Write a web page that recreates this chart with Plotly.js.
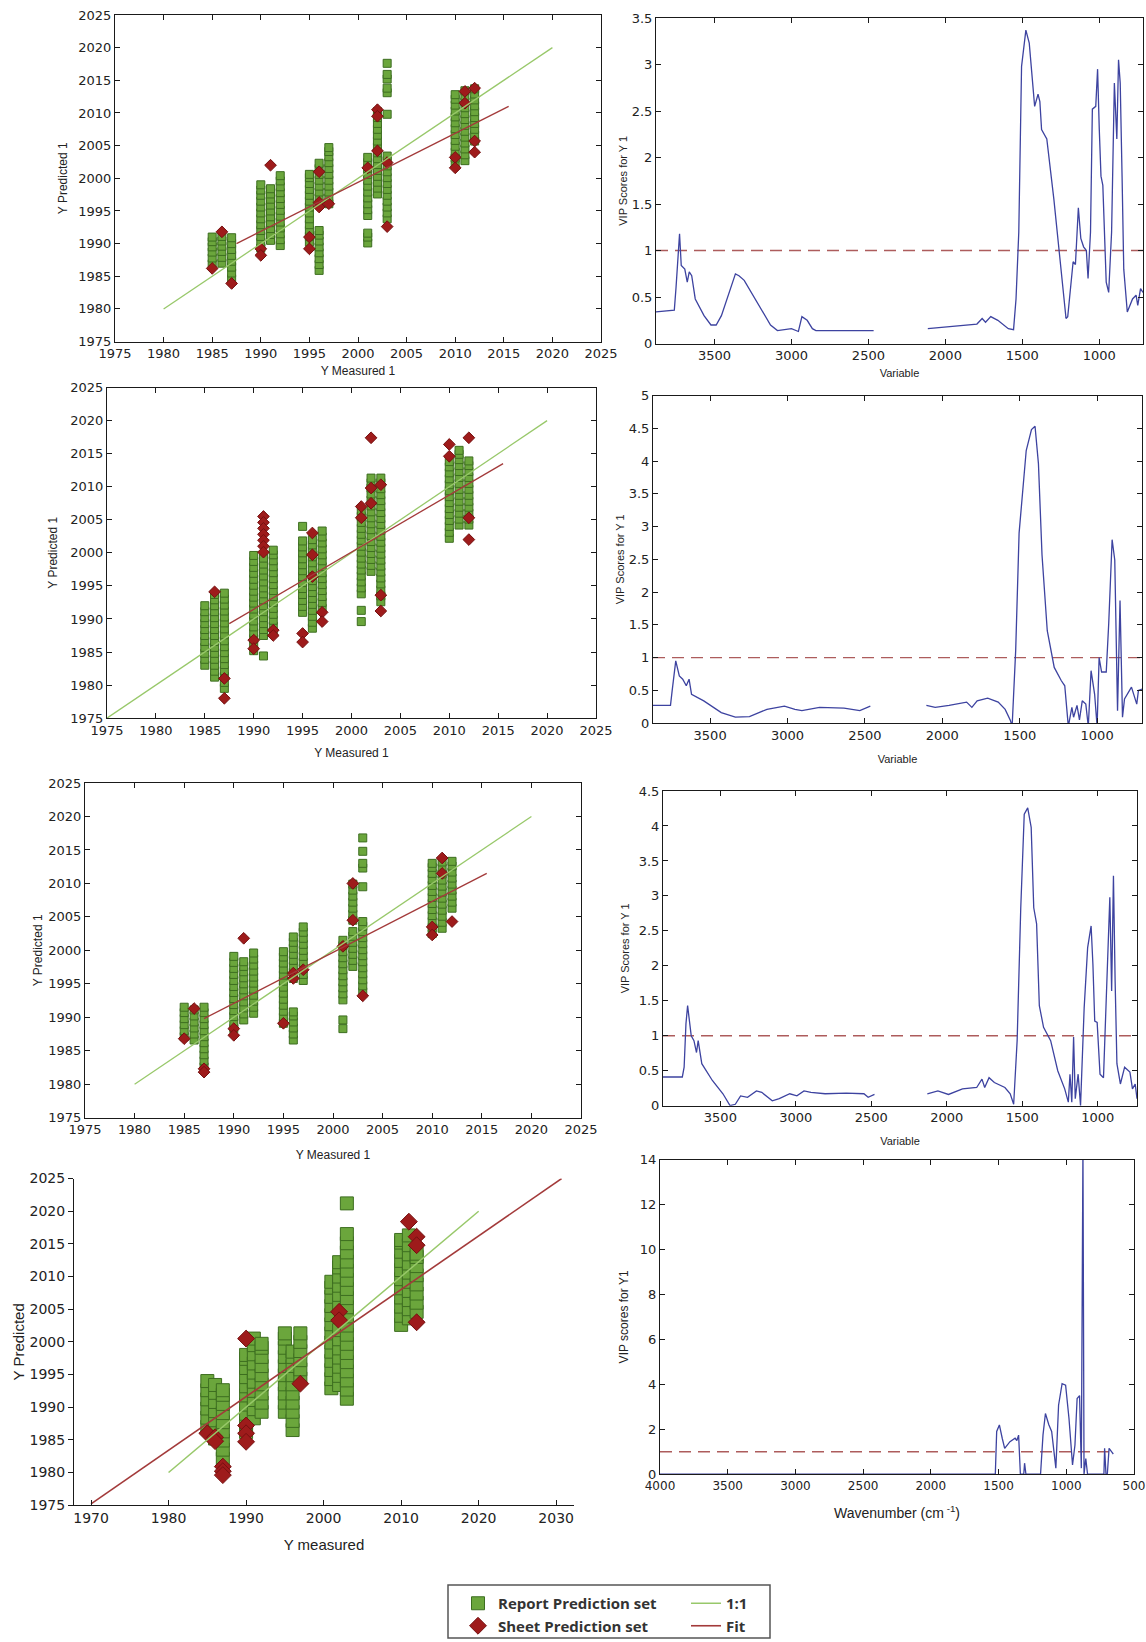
<!DOCTYPE html>
<html><head><meta charset="utf-8">
<script src="https://cdn.plot.ly/plotly-3.0.1.min.js"></script>
<style>html,body{margin:0;padding:0;background:#fff}#chart{width:1146px;height:1642px}</style>
</head><body><div id="chart"></div>
<script>
// ---------------- DATA ----------------
const years = [1985,1986,1987,1990,1991,1992,1995,1996,1997,2001,2002,2003,2010,2011,2012];

// Panel 1 (row 1, left)
const p1Report = [
  [1986.9,1987.8,1988.7,1989.5,1990.3,1991.0],
  [1987.0,1987.9,1988.8,1989.6,1990.4,1991.1],
  [1984.6,1985.5,1986.4,1987.3,1988.2,1989.1,1990.0,1990.9],
  [1989.3,1990.2,1991.1,1992.0,1992.9,1993.8,1994.7,1995.6,1996.5,1997.4,1998.2,1999.0],
  [1990.5,1991.4,1992.3,1993.2,1994.1,1995.0,1995.9,1996.8,1997.6,1998.4],
  [1989.7,1990.6,1991.5,1992.4,1993.3,1994.2,1995.1,1996.0,1996.9,1997.8,1998.7,1999.6,2000.4],
  [1990.2,1991.1,1992.0,1992.9,1993.8,1994.7,1995.6,1996.5,1997.4,1998.3,1999.2,2000.1,2000.6],
  [1985.9,1986.8,1987.7,1988.6,1989.5,1990.4,1991.3,1992.0,1997.0,1997.9,1998.8,1999.7,2000.6,2001.5,2002.3],
  [1996.1,1997.0,1997.9,1998.8,1999.7,2000.6,2001.5,2002.4,2003.3,2004.1,2004.7],
  [1990.1,1991.0,1991.6,1994.3,1995.2,1996.1,1997.0,1997.9,1998.8,1999.7,2000.6,2001.5,2002.4,2003.2],
  [1997.6,1998.5,1999.4,2000.3,2001.2,2002.1,2003.0,2003.9,2004.8,2005.7,2006.6,2007.5,2008.4,2009.3,2010.2],
  [1993.8,1994.7,1995.6,1996.5,1997.4,1998.3,1999.2,2000.1,2001.0,2001.9,2002.7,2003.4,2009.8,2013.1,2013.8,2015.2,2015.9,2017.6],
  [2002.2,2003.1,2004.0,2004.9,2005.8,2006.7,2007.6,2008.5,2009.4,2010.3,2011.2,2012.1,2012.8],
  [2002.7,2003.6,2004.5,2005.4,2006.3,2007.2,2008.1,2009.0,2009.9,2010.8,2011.7,2012.6,2013.4],
  [2005.7,2006.6,2007.5,2008.4,2009.3,2010.2,2011.1,2012.0,2012.9,2013.7]
];
const p1SheetX = [1985,1986,1987,1990,1990,1991,1995,1995,1996,1996,1996,1997,2001,2002,2002,2002,2003,2003,2010,2010,2011,2011,2012,2012,2012];
const p1SheetY = [1986.2,1991.8,1983.9,1989.2,1988.2,2002.0,1991.0,1989.2,2001.0,1996.3,1995.6,1996.1,2001.6,2010.5,2009.5,2004.2,2002.4,1992.6,2003.2,2001.6,2013.3,2011.5,2013.8,2005.7,2004.0];
const p1IdX = [1980,2020], p1IdY = [1980,2020];
const p1FitX = [1987.5,2015.5], p1FitY = [1990.0,2011.0];

// Panel 3 (row 2, left)
const p2Report = [
  [1983.0,1983.9,1984.8,1985.7,1986.6,1987.5,1988.4,1989.3,1990.2,1991.1,1992.0],
  [1981.2,1982.1,1983.0,1983.9,1984.8,1985.7,1986.6,1987.5,1988.4,1989.3,1990.2,1991.1,1992.0,1992.9,1993.7],
  [1979.5,1980.4,1981.3,1982.2,1983.1,1984.0,1984.9,1985.8,1986.7,1987.6,1988.5,1989.4,1990.3,1991.2,1992.1,1993.0,1993.9],
  [1985.2,1986.1,1987.0,1987.9,1988.8,1989.7,1990.6,1991.5,1992.4,1993.3,1994.2,1995.1,1996.0,1996.9,1997.8,1998.7,1999.6],
  [1984.4,1987.5,1988.4,1989.3,1990.2,1991.1,1992.0,1992.9,1993.8,1994.7,1995.6,1996.5,1997.4,1998.3,1999.2],
  [1988.0,1988.9,1989.8,1990.7,1991.6,1992.5,1993.4,1994.3,1995.2,1996.1,1997.0,1997.9,1998.8,1999.7,2000.4],
  [1991.0,1991.9,1992.8,1993.7,1994.6,1995.5,1996.4,1997.3,1998.2,1999.1,2000.0,2000.9,2001.8,2004.0],
  [1988.6,1989.5,1990.4,1991.3,1992.2,1993.1,1994.0,1994.9,1995.8,1996.7,1997.6,1998.5,1999.4,2000.3,2001.2,2002.0],
  [1991.6,1992.5,1993.4,1994.3,1995.2,1996.1,1997.0,1997.9,1998.8,1999.7,2000.6,2001.5,2002.4,2003.3],
  [1989.6,1991.3,1993.8,1994.7,1995.6,1996.5,1997.4,1998.3,1999.2,2000.1,2001.0,2001.9,2002.8,2003.7,2004.6,2005.5,2006.4],
  [1997.2,1998.1,1999.0,1999.9,2000.8,2001.7,2002.6,2003.5,2004.4,2005.3,2006.2,2007.1,2008.0,2008.9,2009.8,2010.6,2011.3],
  [1992.6,1993.5,1994.4,1995.3,1996.2,1997.1,1998.0,1998.9,1999.8,2000.7,2001.6,2002.5,2003.4,2004.3,2005.2,2006.1,2007.0,2007.9,2008.8,2009.7,2010.6,2011.3],
  [2002.2,2003.1,2004.0,2004.9,2005.8,2006.7,2007.6,2008.5,2009.4,2010.3,2011.2,2012.1,2013.0,2013.8],
  [2004.2,2005.1,2006.0,2006.9,2007.8,2008.7,2009.6,2010.5,2011.4,2012.3,2013.2,2014.1,2014.9,2015.5],
  [2004.2,2005.1,2006.0,2006.9,2007.8,2008.7,2009.6,2010.5,2011.4,2012.3,2013.2,2013.9]
];
const p2SheetX = [1986,1987,1987,1990,1990,1991,1991,1991,1991,1991,1991,1991,1992,1992,1995,1995,1996,1996,1996,1997,1997,2001,2001,2002,2002,2002,2003,2003,2003,2010,2010,2012,2012,2012];
const p2SheetY = [1994.1,1981.0,1978.0,1986.8,1985.5,2005.5,2004.6,2003.7,2002.8,2001.9,2001.0,2000.1,1988.3,1987.5,1987.8,1986.5,2003.0,1999.7,1996.4,1991.0,1989.6,2007.0,2005.3,2017.4,2009.8,2007.5,2010.3,1993.6,1991.2,2016.4,2014.6,2017.4,2005.3,2002.0];
const p2IdX = [1975,2020], p2IdY = [1975,2020];
const p2FitX = [1987.5,2015.5], p2FitY = [1989.3,2013.5];

// Panel 5 (row 3, left)
const p3Report = [
  [1987.1,1988.0,1988.9,1989.8,1990.7,1991.5],
  [1986.6,1987.5,1988.4,1989.3,1990.2,1991.1],
  [1982.6,1983.5,1984.4,1985.3,1986.2,1987.1,1988.0,1988.9,1989.8,1990.7,1991.5],
  [1988.3,1989.2,1990.1,1991.0,1991.9,1992.8,1993.7,1994.6,1995.5,1996.4,1997.3,1998.2,1999.1],
  [1989.6,1990.5,1991.4,1992.3,1993.2,1994.1,1995.0,1995.9,1996.8,1997.6,1998.3],
  [1990.6,1991.5,1992.4,1993.3,1994.2,1995.1,1996.0,1996.9,1997.8,1998.7,1999.6],
  [1989.1,1990.0,1990.9,1991.8,1992.7,1993.6,1994.5,1995.4,1996.3,1997.2,1998.1,1999.0,1999.8],
  [1986.6,1987.5,1988.4,1989.3,1990.2,1990.8,1995.8,1996.7,1997.6,1998.5,1999.4,2000.3,2001.2,2002.0],
  [1995.5,1996.4,1997.3,1998.2,1999.1,2000.0,2000.9,2001.8,2002.7,2003.5],
  [1988.3,1989.6,1992.6,1993.5,1994.4,1995.3,1996.2,1997.1,1998.0,1998.9,1999.8,2000.7,2001.5],
  [1997.6,1998.5,1999.4,2000.3,2001.2,2002.1,2002.8,2004.5,2005.4,2006.3,2007.2,2008.1,2009.0,2009.9],
  [1993.8,1994.7,1995.6,1996.5,1997.4,1998.3,1999.2,2000.1,2001.0,2001.9,2002.8,2003.6,2004.3,2009.5,2012.3,2013.0,2014.8,2016.8],
  [2002.5,2003.4,2004.3,2005.2,2006.1,2007.0,2007.9,2008.8,2009.7,2010.6,2011.5,2012.4,2013.0],
  [2003.3,2004.2,2005.1,2006.0,2006.9,2007.8,2008.7,2009.6,2010.5,2011.4,2012.3,2013.2],
  [2006.3,2007.2,2008.1,2009.0,2009.9,2010.8,2011.7,2012.6,2013.3]
];
const p3SheetX = [1985,1986,1987,1987,1990,1990,1991,1995,1996,1996,1997,2001,2002,2002,2003,2010,2010,2011,2011,2012];
const p3SheetY = [1986.8,1991.3,1982.3,1981.8,1988.3,1987.3,2001.8,1989.1,1996.6,1995.8,1997.1,2000.6,2010.0,2004.5,1993.2,2003.5,2002.3,2013.8,2011.5,2004.3];
const p3IdX = [1980,2020], p3IdY = [1980,2020];
const p3FitX = [1987.0,2015.5], p3FitY = [1989.8,2011.5];

// Panel 7 (row 4, left)
const p4Report = [
  [1987.0,1988.4,1989.8,1991.2,1992.6,1994.0],
  [1985.2,1986.6,1988.0,1989.4,1990.8,1992.2,1993.4],
  [1982.1,1983.5,1984.9,1986.3,1987.7,1989.1,1990.5,1991.9,1992.6],
  [1986.2,1987.6,1989.0,1990.4,1991.8,1993.2,1994.6,1996.0,1997.4,1998.0],
  [1988.3,1989.7,1991.1,1992.5,1993.9,1995.3,1996.7,1998.1,1999.5,2000.5],
  [1989.3,1990.7,1992.1,1993.5,1994.9,1996.3,1997.7,1999.1,1999.7],
  [1989.3,1990.7,1992.1,1993.5,1994.9,1996.3,1997.7,1999.1,2000.5,2001.3],
  [1986.5,1987.9,1989.3,1990.7,1992.1,1993.5,1994.9,1996.3,1997.7,1998.5],
  [1994.4,1995.8,1997.2,1998.6,2000.0,2001.3],
  [1992.9,1994.3,1995.7,1997.1,1998.5,1999.9,2001.3,2002.7,2004.1,2005.5,2006.9,2008.3,2009.2],
  [1993.4,1994.8,1996.2,1997.6,1999.0,2000.4,2001.8,2005.8,2007.2,2008.6,2010.0,2011.4,2012.2],
  [1991.3,1992.7,1994.1,1995.5,1996.9,1998.3,1999.7,2001.1,2002.5,2003.9,2005.3,2006.7,2008.1,2009.5,2010.9,2012.3,2013.7,2015.1,2016.5,2021.2],
  [2002.6,2004.0,2005.4,2006.8,2008.2,2009.6,2011.0,2012.4,2013.8,2015.2,2015.6],
  [2003.6,2005.0,2006.4,2007.8,2009.2,2010.6,2012.0,2013.4,2014.8,2016.3],
  [2004.6,2006.0,2007.4,2008.8,2010.2,2011.6,2013.0,2013.5]
];
const p4SheetX = [1985,1986,1986,1987,1987,1987,1990,1990,1990,1990,1997,2002,2002,2011,2012,2012,2012];
const p4SheetY = [1986.0,1985.4,1984.8,1980.9,1980.2,1979.6,2000.5,1987.2,1986.0,1984.7,1993.6,2004.6,2003.3,2018.4,2016.1,2014.8,2003.0];
const p4IdX = [1980,2020], p4IdY = [1980,2020];
const p4FitX = [1970.0,2030.7], p4FitY = [1975.2,2025.0];

// VIP spectra (wavenumber, VIP score); null = removed region
const vip1Wn = [3880,3761,3750,3727,3716,3693,3677,3664,3648,3625,3568,3523,3489,3455,3364,3341,3307,3250,3182,3136,3091,3000,2955,2932,2898,2864,2841,2659,2545,2466,null,2114,1977,1795,1761,1739,1705,1659,1591,1557,1541,1523,1505,1477,1455,1420,1398,1386,1375,1341,1295,1250,1216,1205,1182,1170,1155,1136,1120,1102,1084,1073,1057,1045,1023,1011,1000,989,977,955,939,920,902,886,875,864,852,841,818,784,761,750,732,716];
const vip1Val = [0.34,0.36,0.6,1.18,0.84,0.8,0.66,0.77,0.73,0.48,0.30,0.2,0.2,0.3,0.75,0.73,0.68,0.52,0.32,0.2,0.14,0.16,0.13,0.29,0.25,0.16,0.14,0.14,0.14,0.14,null,0.16,0.18,0.21,0.27,0.23,0.29,0.25,0.16,0.15,0.48,1.2,2.98,3.37,3.23,2.55,2.68,2.6,2.3,2.2,1.55,0.84,0.27,0.29,0.66,0.88,0.85,1.46,1.13,1.04,1.0,0.7,1.2,2.52,2.55,2.95,2.3,1.8,1.7,0.66,0.55,1.2,2.8,2.2,3.05,2.8,1.8,0.8,0.34,0.48,0.52,0.41,0.59,0.55];

const vip2Wn = [3869,3756,3745,3722,3699,3677,3654,3636,3620,3541,3428,3337,3246,3133,3020,2952,2907,2793,2635,2533,2465,null,2103,2046,1956,1843,1809,1775,1707,1639,1594,1560,1549,1526,1504,1481,1458,1424,1401,1379,1356,1322,1277,1232,1209,1186,1163,1152,1130,1114,1096,1073,1057,1039,1016,1000,987,971,941,925,903,886,868,852,836,823,778,744,733,710];
const vip2Val = [0.27,0.27,0.5,0.95,0.72,0.67,0.57,0.67,0.44,0.34,0.16,0.09,0.1,0.21,0.26,0.21,0.19,0.24,0.23,0.19,0.26,null,0.27,0.24,0.27,0.32,0.24,0.34,0.38,0.32,0.21,0.04,-0.05,1.11,2.9,3.6,4.16,4.48,4.53,3.96,2.57,1.41,0.85,0.65,0.57,-0.05,0.24,0.09,0.27,0.05,0.34,0.29,-0.05,0.8,0.44,-0.05,1.0,0.78,0.78,1.52,2.8,2.49,0.19,1.87,0.09,0.37,0.55,0.29,0.5,0.52];

const vip3Wn = [3880,3752,3740,3728,3717,3705,3693,3675,3658,3647,3623,3553,3483,3436,3401,3366,3320,3261,3226,3156,3110,3040,2993,2946,2900,2806,2666,2549,2521,2479,null,2129,2059,1989,1896,1802,1767,1749,1720,1685,1615,1580,1557,1534,1510,1487,1464,1441,1424,1405,1387,1359,1312,1265,1219,1195,1184,1172,1160,1149,1130,1114,1090,1067,1044,1032,1020,1004,985,962,938,920,908,896,885,873,850,822,787,770,752,740];
const vip3Val = [0.41,0.41,0.55,1.17,1.43,1.21,1.0,0.93,0.76,0.93,0.6,0.36,0.17,0.0,0.02,0.14,0.12,0.21,0.19,0.07,0.1,0.17,0.14,0.21,0.19,0.17,0.18,0.17,0.12,0.16,null,0.17,0.21,0.16,0.24,0.26,0.38,0.26,0.4,0.33,0.26,0.17,0.02,0.93,2.83,4.17,4.26,3.98,2.83,2.6,1.43,1.12,0.93,0.5,0.24,0.05,0.45,0.05,0.98,0.1,0.45,0.0,1.4,2.26,2.57,2.02,1.21,1.19,0.45,0.4,1.88,2.98,1.64,3.29,1.79,0.6,0.31,0.55,0.48,0.24,0.31,0.1];

const vip4Wn = [4000,1530,1524,1514,1494,1473,1455,1416,1378,1365,1352,1339,1314,1308,1298,1190,1172,1154,1129,1108,1090,1077,1057,1031,1005,980,954,936,920,902,889,877,869,856,843,722,717,707,697,684,666,653];
const vip4Val = [0,0,0,1.9,2.19,1.6,1.15,1.45,1.6,1.5,1.74,0,0,0.49,0,0,1.74,2.7,2.2,1.9,0.86,0.27,3.07,4.03,3.96,2.48,0.41,1.3,3.37,3.5,0.27,14.5,0,0.7,0,0,1.15,0,0,1.15,1.0,0.9];

const thr1Wn = [3880,716], thr2Wn = [3869,710], thr3Wn = [3880,740], thr4Wn = [4000,650];
const thrVal = [1,1];

// ---------------- STYLE / LAYOUT ----------------
const W = 1146, H = 1642;
const fx = v => v / W, fy = v => 1 - v / H;
const boxes = {
  1:{x:[115,601], y:[15,342]},
  2:{x:[656,1143], y:[18,344]},
  3:{x:[107,596], y:[388,719]},
  4:{x:[653,1142], y:[396,724]},
  5:{x:[85,581], y:[784,1119]},
  6:{x:[663,1137], y:[792,1107]},
  7:{x:[74,574], y:[1180,1507]},
  8:{x:[660,1134], y:[1161,1476]}
};
const domX = k => [fx(boxes[k].x[0]), fx(boxes[k].x[1])];
const domY = k => [fy(boxes[k].y[1]), fy(boxes[k].y[0])];

const GREEN = '#6ba63c', GREEN_EDGE = '#3d6e20';
const RED = '#9e1b1b', RED_EDGE = '#751010';
const ID_COL = '#98c86a', FIT_COL = '#a33a3a';
const BLUE = '#3d43a0', THR_COL = '#ad5c5c';
const tickFont = {family:'DejaVu Sans, sans-serif', size:13, color:'#222'};
const titleFont = {family:'Liberation Sans, Arial, sans-serif', size:12, color:'#222'};

function flatten(cols){
  const x = [], y = [];
  cols.forEach((c,i) => c.forEach(v => { x.push(years[i]); y.push(v); }));
  return {x, y};
}

const traces = [];
function scatterPanel(n, report, sx, sy, idx, idy, fitx, fity, big, legendOn){
  const xa = n === 1 ? 'x' : 'x' + n, ya = n === 1 ? 'y' : 'y' + n;
  const r = flatten(report);
  const sq = big ? 13 : 8, dm = big ? 13 : 9;
  traces.push({type:'scatter', mode:'markers', x:r.x, y:r.y, xaxis:xa, yaxis:ya,
    name:'Report Prediction set', showlegend:legendOn, legend:'legend',
    marker:{symbol:'square', size:sq, color:GREEN, line:{color:GREEN_EDGE, width:1}}});
  traces.push({type:'scatter', mode:'markers', x:sx, y:sy, xaxis:xa, yaxis:ya,
    name:'Sheet Prediction set', showlegend:legendOn, legend:'legend',
    marker:{symbol:'diamond', size:dm, color:RED, line:{color:RED_EDGE, width:1}}});
  traces.push({type:'scatter', mode:'lines', x:idx, y:idy, xaxis:xa, yaxis:ya,
    name:'1:1', showlegend:legendOn, legend:'legend2',
    line:{color:ID_COL, width:big ? 1.5 : 1.3}});
  traces.push({type:'scatter', mode:'lines', x:fitx, y:fity, xaxis:xa, yaxis:ya,
    name:'Fit', showlegend:legendOn, legend:'legend2',
    line:{color:FIT_COL, width:big ? 1.6 : 1.3}});
}
function vipPanel(n, wn, val, thrWn){
  const xa = 'x' + n, ya = 'y' + n;
  traces.push({type:'scatter', mode:'lines', x:thrWn, y:thrVal, xaxis:xa, yaxis:ya,
    showlegend:false, line:{color:THR_COL, width:1.4, dash:'12px,7px'}});
  traces.push({type:'scatter', mode:'lines', x:wn, y:val, xaxis:xa, yaxis:ya,
    showlegend:false, connectgaps:false, line:{color:BLUE, width:1.3}});
}

scatterPanel(1, p1Report, p1SheetX, p1SheetY, p1IdX, p1IdY, p1FitX, p1FitY, false, false);
vipPanel(2, vip1Wn, vip1Val, thr1Wn);
scatterPanel(3, p2Report, p2SheetX, p2SheetY, p2IdX, p2IdY, p2FitX, p2FitY, false, false);
vipPanel(4, vip2Wn, vip2Val, thr2Wn);
scatterPanel(5, p3Report, p3SheetX, p3SheetY, p3IdX, p3IdY, p3FitX, p3FitY, false, false);
vipPanel(6, vip3Wn, vip3Val, thr3Wn);
scatterPanel(7, p4Report, p4SheetX, p4SheetY, p4IdX, p4IdY, p4FitX, p4FitY, true, true);
vipPanel(8, vip4Wn, vip4Val, thr4Wn);

function ax(extra){
  return Object.assign({showline:true, linecolor:'#1a1a1a', linewidth:1, mirror:'allticks',
    ticks:'inside', ticklen:5, tickwidth:1, tickcolor:'#1a1a1a', showgrid:false, zeroline:false,
    tickfont:tickFont, fixedrange:true}, extra);
}
const yearAxX = (n, so) => ax({domain:domX(n), anchor:'y'+n, range:[1975,2025], tick0:1975, dtick:5,
  title:{text:'Y Measured 1', font:titleFont, standoff:so}});
const yearAxY = (n, so) => ax({domain:domY(n), anchor:'x'+n, range:[1975,2025], tick0:1975, dtick:5,
  title:{text:'Y Predicted 1', font:titleFont, standoff:so}});
const vipAxX = (n, rng, so) => ax({domain:domX(n), anchor:'y'+n, range:rng, tick0:0, dtick:500,
  title:{text:'Variable', font:Object.assign({}, titleFont, {size:11}), standoff:so}});
const vipAxY = (n, top, so) => ax({domain:domY(n), anchor:'x'+n, range:[0,top], tick0:0, dtick:0.5,
  title:{text:'VIP Scores for Y 1', font:Object.assign({}, titleFont, {size:11}), standoff:so}});

const layout = {
  width:W, height:H, margin:{l:0,r:0,t:0,b:0}, paper_bgcolor:'#fff', plot_bgcolor:'#fff',
  showlegend:true,
  xaxis: Object.assign(yearAxX(1,6), {anchor:'y'}),
  yaxis: Object.assign(yearAxY(1,8), {anchor:'x'}),
  xaxis2: vipAxX(2,[3880,716],7),
  yaxis2: vipAxY(2,3.5,1),
  xaxis3: yearAxX(3,11),
  yaxis3: yearAxY(3,10),
  xaxis4: vipAxX(4,[3869,710],13),
  yaxis4: vipAxY(4,5,1),
  xaxis5: yearAxX(5,14),
  yaxis5: yearAxY(5,3),
  xaxis6: vipAxX(6,[3880,740],13),
  yaxis6: vipAxY(6,4.5,6),
  xaxis7: ax({domain:domX(7), anchor:'y7', range:[1967.8,2032.3], tick0:1970, dtick:10, mirror:false,
    ticks:'inside', tickfont:Object.assign({}, tickFont, {size:14}),
    title:{text:'Y measured', font:Object.assign({}, titleFont, {size:15}), standoff:14}}),
  yaxis7: ax({domain:domY(7), anchor:'x7', range:[1975,2025], tick0:1975, dtick:5, mirror:false,
    ticks:'outside', tickfont:Object.assign({}, tickFont, {size:14}),
    title:{text:'Y Predicted', font:Object.assign({}, titleFont, {size:15}), standoff:1}}),
  xaxis8: ax({domain:domX(8), anchor:'y8', range:[4000,500], tick0:0, dtick:500,
    tickfont:Object.assign({}, tickFont, {size:12}),
    title:{text:'Wavenumber (cm<sup> -1</sup>)', font:Object.assign({}, titleFont, {size:14}), standoff:16}}),
  yaxis8: ax({domain:domY(8), anchor:'x8', range:[0,14], tick0:0, dtick:2,
    title:{text:'VIP scores for Y1', font:titleFont, standoff:8}}),
  legend: {x:fx(458), y:fy(1589), xanchor:'left', yanchor:'top', bgcolor:'rgba(0,0,0,0)', borderwidth:0,
    font:{family:'Open Sans, sans-serif', size:15, color:'#333', weight:700}, tracegroupgap:0},
  legend2: {x:fx(686), y:fy(1589), xanchor:'left', yanchor:'top', bgcolor:'rgba(0,0,0,0)', borderwidth:0,
    font:{family:'Open Sans, sans-serif', size:15, color:'#333', weight:700}, tracegroupgap:0},
  shapes: [{type:'rect', xref:'paper', yref:'paper', x0:fx(448), x1:fx(770), y0:fy(1640), y1:fy(1587),
    line:{color:'#555', width:1.5}, fillcolor:'rgba(0,0,0,0)'}]
};

Plotly.newPlot('chart', traces, layout, {staticPlot:true, displayModeBar:false});
</script>
</body></html>
